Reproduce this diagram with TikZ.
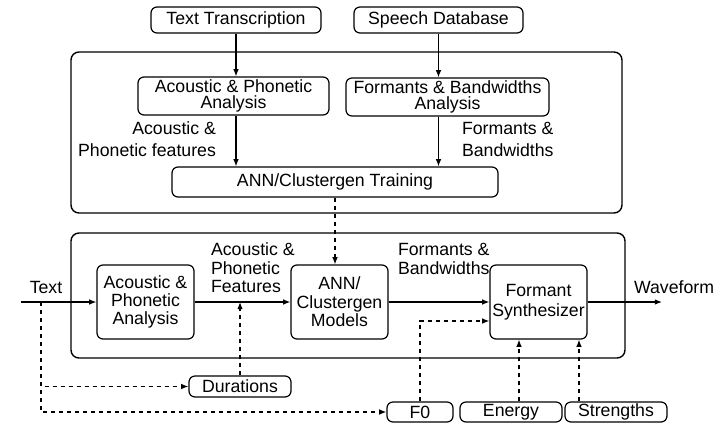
\documentclass[tikz,border=0pt]{standalone}
\usepackage{fontspec}
\setmainfont{Liberation Sans}
\usetikzlibrary{positioning, arrows.meta, calc}

\begin{document}
\begin{tikzpicture}[
  x=0.5pt, y=-0.5pt,
  align=center,
  font=\fontsize{8.85}{9.2}\selectfont,
  % Box styles
  contbox/.style={draw, rectangle, rounded corners=4pt, line width=0.7pt, inner sep=0pt},
  blkbox/.style={draw, rectangle, rounded corners=3pt, line width=0.6pt, inner sep=0pt},
  srcbox/.style={blkbox, minimum width=51pt, minimum height=10.5pt},
  % Arrow styles
  line/.style={draw, -{Latex[length=3.6pt,width=2.8pt]}, line width=0.6pt},
  dline/.style={line, dash pattern=on 2pt off 2pt}
]
\useasboundingbox (0,0) rectangle (728,424);

  % ==========================================
  % TRAINING STAGE
  % ==========================================
  \node[contbox, minimum width=275.5pt, minimum height=80.5pt] (trainpart) at (346.5,132.5) {};

  \node[blkbox, minimum width=85pt, minimum height=13pt] (txttr) at (236,20) {Text Transcription};
  \node[blkbox, minimum width=84.5pt, minimum height=13pt] (spdb) at (438.5,20) {Speech Database};

  \node[blkbox, minimum width=95.5pt, minimum height=19pt, font=\fontsize{8.85}{8.2}\selectfont] (apa1) at (233.5,96) {Acoustic \& Phonetic\\Analysis};
  \node[blkbox, minimum width=101.5pt, minimum height=19pt, font=\fontsize{8.85}{8.2}\selectfont] (fba) at (447.5,97) {Formants \& Bandwidths\\Analysis};

  \node[blkbox, minimum width=163pt, minimum height=15pt] (train) at (335,182) {ANN/Clustergen Training};

  \draw[line] (txttr.south) -- (txttr.south |- apa1.north);
  \draw[line] (spdb.south) -- (spdb.south |- fba.north);
  \draw[line] (txttr.south |- apa1.south) -- (txttr.south |- train.north);
  \draw[line] (spdb.south |- fba.south) -- (spdb.south |- train.north);

  \node[anchor=east, align=right, font=\fontsize{8.85}{11}\selectfont] (lblap1) at (223,139) {Acoustic \&\\Phonetic features};
  \node[anchor=west, align=left, font=\fontsize{8.85}{11}\selectfont] (lblfb1) at (455,139) {Formants \&\\Bandwidths};

  % ==========================================
  % SYNTHESIS STAGE
  % ==========================================
  \node[contbox, minimum width=277pt, minimum height=62.5pt] (synthpart) at (348,295.5) {};

  \node[blkbox, minimum width=48.5pt, minimum height=37pt] (apa2) at (145.5,302) {Acoustic \&\\Phonetic\\Analysis};
  \node[blkbox, minimum width=48.5pt, minimum height=37pt] (models) at (339.5,302) {ANN/\\Clustergen\\Models};
  \node[blkbox, minimum width=48.5pt, minimum height=37pt, font=\fontsize{8.85}{10}\selectfont] (synth) at (538.5,302) {Formant\\Synthesizer};

  \coordinate (txtin) at (21,302);
  \coordinate (txttap) at (41,302);
  \coordinate (wave) at (662,302);

  \draw[line] (txtin) -- (apa2.west);
  \draw[line] (apa2.east) -- (models.west);
  \draw[line] (models.east) -- (synth.west);
  \draw[line] (synth.east) -- (wave);

  \node (lbltxt) at (46,287) {Text};
  \node (lblwave) at (674,287) {Waveform};
  \node[anchor=west, align=left] (lblap2) at (204,268) {Acoustic \&\\Phonetic\\Features};
  \node[anchor=west, align=left] (lblfb2) at (391,259) {Formants \&\\Bandwidths};

  % trained models feed the synthesis stage
  \draw[dline] (train.south) -- (train.south |- models.north);

  % ==========================================
  % PROSODIC INPUTS
  % ==========================================
  \node[srcbox] (dur) at (240,386.5) {Durations};
  \node[srcbox, minimum width=33pt, minimum height=10pt] (fzero) at (420,412) {F0};
  \node[srcbox, minimum height=10pt] (energy) at (511,412) {Energy};
  \node[srcbox, minimum height=10pt] (strength) at (616,412) {Strengths};

  \draw[dline] (txttap) |- (dur.west);
  \draw[dline] (txttap) |- (fzero.west);
  \draw[dline] (dur.north) -- (dur.north |- apa2.east);
  \draw[dline] (fzero.north) |- ([yshift=-9.5pt]synth.west);
  \draw[dline] ([xshift=-9.75pt]synth.south |- energy.north) -- ([xshift=-9.75pt]synth.south);
  \draw[dline] ([xshift=20.25pt]synth.south |- strength.north) -- ([xshift=20.25pt]synth.south);

\end{tikzpicture}
\end{document}
